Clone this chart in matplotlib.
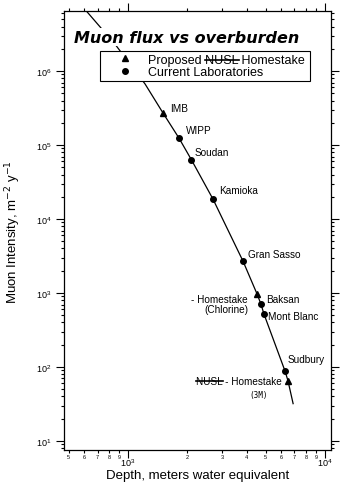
import matplotlib
matplotlib.use('Agg')
import matplotlib.pyplot as plt
import matplotlib.ticker as mticker
from matplotlib.lines import Line2D
import numpy as np

plt.rcParams['font.family'] = ['Liberation Sans', 'DejaVu Sans']

# current laboratories (circles)
lab_names = ['WIPP', 'Soudan', 'Kamioka', 'Gran Sasso', 'Baksan', 'Mont Blanc', 'Sudbury']
lab_depth = [1815, 2100, 2700, 3835, 4730, 4900, 6270]
lab_flux = [1.24e5, 6.3e4, 1.86e4, 2.7e3, 710, 520, 88]

# proposed sites (triangles)
prop_names = ['IMB', 'Homestake (Chlorine)', 'NUSL Homestake']
prop_depth = [1507, 4520, 6490]
prop_flux = [2.7e5, 970, 65]

# depth-intensity curve
curve_depth = [620, 860, 1220, 1507, 1815, 2100, 2700, 3835, 4520, 4730, 4900, 6270, 6490, 6890]
curve_flux = [6.3e6, 2.3e6, 6.7e5, 2.7e5, 1.24e5, 6.3e4, 1.86e4, 2.7e3, 970, 710, 520, 88, 65, 32]

fig = plt.figure(figsize=(3.44, 4.85), dpi=100)
ax = fig.add_axes([0.186, 0.070, 0.776, 0.905])

ax.loglog(curve_depth, curve_flux, color='black', lw=0.9, zorder=2)
ax.plot(lab_depth, lab_flux, 'o', color='black', ms=4, zorder=3)
ax.plot(prop_depth, prop_flux, '^', color='black', ms=4, zorder=3)

ax.set_xlim(473, 10720)
ax.set_ylim(7.55, 6.46e6)

# ticks
ax.xaxis.set_major_locator(mticker.LogLocator(base=10))
ax.xaxis.set_minor_locator(mticker.LogLocator(base=10, subs=np.arange(2, 10)))
ax.xaxis.set_minor_formatter(mticker.FuncFormatter(lambda v, p: '%d' % round(v / 10 ** np.floor(np.log10(v) + 1e-9))))
ax.yaxis.set_minor_locator(mticker.LogLocator(base=10, subs=np.arange(2, 10)))
ax.yaxis.set_minor_formatter(mticker.NullFormatter())
ax.tick_params(which='both', direction='out', top=True, right=True, width=0.8)
ax.tick_params(which='major', length=5.5, labelsize=6.5)
ax.tick_params(axis='x', which='major', pad=-1)
ax.tick_params(which='minor', length=2.5)
ax.tick_params(axis='x', which='minor', labelsize=4, pad=0.5)
for s in ax.spines.values():
    s.set_linewidth(0.9)

ax.set_xlabel('Depth, meters water equivalent', fontsize=9.5, labelpad=1)
ax.set_ylabel('Muon Intensity, m$^{-2}$ y$^{-1}$', fontsize=9.5, labelpad=9)

# title inside the axes
ax.text(0.46, 0.941, 'Muon flux vs overburden', transform=ax.transAxes, ha='center', va='center',
        fontsize=11.5, fontweight='bold', fontstyle='italic', family='DejaVu Sans',
        bbox=dict(facecolor='white', edgecolor='none', pad=1), zorder=5)

# legend
handles = [Line2D([], [], marker='^', color='black', ls='none', ms=4),
           Line2D([], [], marker='o', color='black', ls='none', ms=4)]
leg = ax.legend(handles, ['Proposed NUSL Homestake', 'Current Laboratories'],
                loc='upper left', bbox_to_anchor=(0.135, 0.845, 0.786, 0.064), mode='expand',
                fontsize=9, frameon=True, fancybox=False, edgecolor='black', framealpha=1,
                borderpad=0.2, labelspacing=0.05, handlelength=3.6, handletextpad=0.05,
                borderaxespad=0)
leg.get_frame().set_linewidth(0.8)
leg.set_zorder(6)

# point labels
kw = dict(textcoords='offset points', fontsize=7.2, zorder=4)
lab_off = [(5, 6), (2.5, 5.5), (4.5, 6.5), (3.5, 5), (3.5, 3.5), (3, -1.5), (2, 8.5)]
for name, d, f, off in zip(lab_names, lab_depth, lab_flux, lab_off):
    ax.annotate(name, (d, f), xytext=off, ha='left', va='center', **kw)

ax.annotate(prop_names[0], (prop_depth[0], prop_flux[0]), xytext=(5, 3.5), ha='left', va='center', **kw)
ax.annotate('- Homestake\n(Chlorine)', (prop_depth[1], prop_flux[1]), xytext=(-6.5, -7),
            ha='right', va='center', ma='right', linespacing=1.0, **kw)
nusl = ax.annotate('NUSL - Homestake', (prop_depth[2], prop_flux[2]), xytext=(-4.5, 0),
                   ha='right', va='center', **kw)
ax.annotate('(3M)', (prop_depth[2], prop_flux[2]), xytext=(-21.5, -9.5), ha='center', va='center',
            textcoords='offset points', fontsize=5.5, family='DejaVu Sans Mono')

# strike through "NUSL" in two texts
fig.canvas.draw()
renderer = fig.canvas.get_renderer()


def strike(txt, full, sub):
    bb = txt.get_window_extent(renderer)
    prop = txt.get_fontproperties()
    i = full.index(sub)
    w0 = renderer.get_text_width_height_descent(full[:i], prop, ismath=False)[0] if i else 0
    w1 = renderer.get_text_width_height_descent(full[:i + len(sub)], prop, ismath=False)[0]
    ymid = bb.y0 + bb.height * 0.5
    fig.add_artist(Line2D([bb.x0 + w0, bb.x0 + w1], [ymid, ymid], transform=None,
                          color='black', lw=1.2, zorder=10))


strike(leg.get_texts()[0], 'Proposed NUSL Homestake', 'NUSL')
strike(nusl, 'NUSL - Homestake', 'NUSL')

fig.savefig('out.png', dpi=100, facecolor='white')
